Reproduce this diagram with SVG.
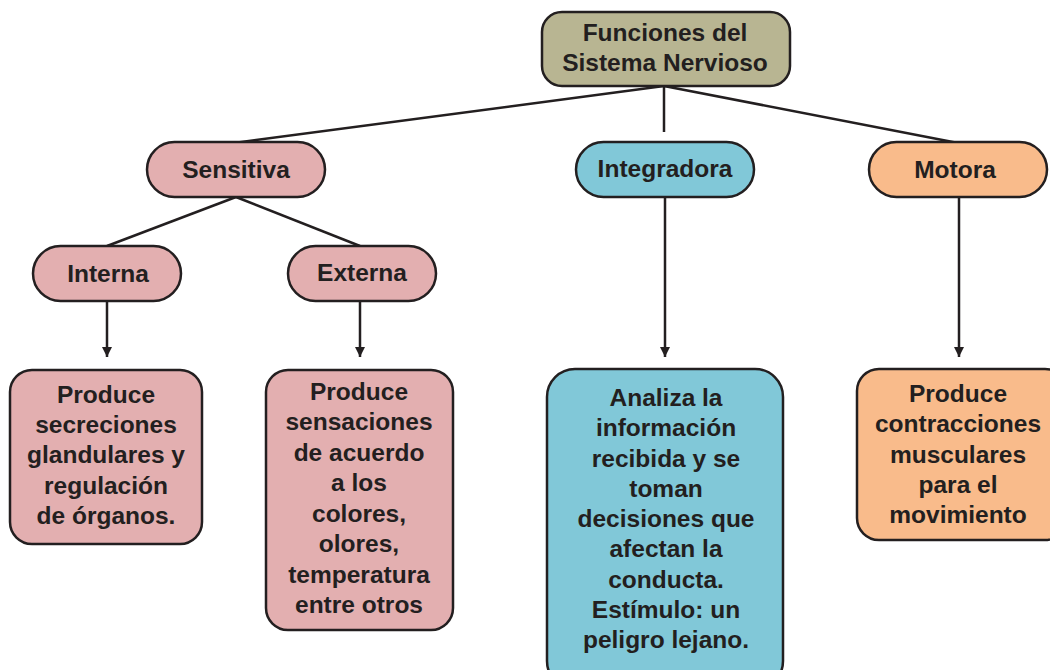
<svg xmlns="http://www.w3.org/2000/svg" width="1050" height="670" viewBox="0 0 1050 670">
<defs>
<style>
.n{stroke:#231f20;stroke-width:2.5}
.t{font-family:"Liberation Sans",Arial,sans-serif;font-weight:bold;font-size:24.5px;fill:#231f20;text-anchor:middle}
.c{stroke:#231f20;stroke-width:2.5;fill:none}
.olive{fill:#b8b592}.pink{fill:#e3afb0}.blue{fill:#81c8d8}.orange{fill:#f9bb8b}
</style>
<marker id="ah" viewBox="0 0 10 10" refX="10" refY="5" markerWidth="4" markerHeight="4" orient="auto" markerUnits="strokeWidth">
<path d="M0,0 L10,5 L0,10 z" fill="#231f20"/>
</marker>
</defs>
<rect width="1050" height="670" fill="#ffffff"/>
<g id="connectors">
<line class="c" x1="664" y1="86" x2="234" y2="143"/>
<line class="c" x1="664" y1="86" x2="664" y2="132"/>
<line class="c" x1="664" y1="86" x2="958" y2="143"/>
<line class="c" x1="236" y1="197" x2="107" y2="246"/>
<line class="c" x1="236" y1="197" x2="360" y2="246"/>
<line class="c" x1="107" y1="301" x2="107" y2="357" marker-end="url(#ah)"/>
<line class="c" x1="360" y1="301" x2="360" y2="357" marker-end="url(#ah)"/>
<line class="c" x1="665" y1="197" x2="665" y2="357" marker-end="url(#ah)"/>
<line class="c" x1="959" y1="197" x2="959" y2="357" marker-end="url(#ah)"/>
</g>
<g id="root">
<rect class="n olive" x="542" y="12" width="248" height="74" rx="20"/>
<text class="t" x="665" y="41">Funciones del</text>
<text class="t" x="665" y="71">Sistema Nervioso</text>
</g>
<g id="sensitiva">
<rect class="n pink" x="147" y="142" width="178" height="55" rx="27.5"/>
<text class="t" x="236" y="178">Sensitiva</text>
</g>
<g id="integradora">
<rect class="n blue" x="576" y="142" width="178" height="55" rx="27.5"/>
<text class="t" x="665" y="177">Integradora</text>
</g>
<g id="motora">
<rect class="n orange" x="869" y="142" width="178" height="55" rx="27.5"/>
<text class="t" x="955" y="178">Motora</text>
</g>
<g id="interna">
<rect class="n pink" x="33" y="246" width="148" height="55" rx="27.5"/>
<text class="t" x="108" y="282">Interna</text>
</g>
<g id="externa">
<rect class="n pink" x="288" y="246" width="148" height="55" rx="27.5"/>
<text class="t" x="362" y="281">Externa</text>
</g>
<g id="box-interna">
<rect class="n pink" x="10" y="370" width="192" height="174" rx="22"/>
<text class="t" x="106" y="403">Produce</text>
<text class="t" x="106" y="433">secreciones</text>
<text class="t" x="106" y="463">glandulares y</text>
<text class="t" x="106" y="494">regulación</text>
<text class="t" x="106" y="524">de órganos.</text>
</g>
<g id="box-externa">
<rect class="n pink" x="266" y="370" width="187" height="260" rx="22"/>
<text class="t" x="359" y="400">Produce</text>
<text class="t" x="359" y="430">sensaciones</text>
<text class="t" x="359" y="461">de acuerdo</text>
<text class="t" x="359" y="491">a los</text>
<text class="t" x="359" y="522">colores,</text>
<text class="t" x="359" y="552">olores,</text>
<text class="t" x="359" y="583">temperatura</text>
<text class="t" x="359" y="613">entre otros</text>
</g>
<g id="box-integradora">
<rect class="n blue" x="547" y="369" width="236" height="320" rx="28"/>
<text class="t" x="666" y="406">Analiza la</text>
<text class="t" x="666" y="436">información</text>
<text class="t" x="666" y="467">recibida y se</text>
<text class="t" x="666" y="497">toman</text>
<text class="t" x="666" y="527">decisiones que</text>
<text class="t" x="666" y="557">afectan la</text>
<text class="t" x="666" y="588">conducta.</text>
<text class="t" x="666" y="618">Estímulo: un</text>
<text class="t" x="666" y="648">peligro lejano.</text>
</g>
<g id="box-motora">
<rect class="n orange" x="857" y="369" width="210" height="171" rx="22"/>
<text class="t" x="958" y="402">Produce</text>
<text class="t" x="958" y="432">contracciones</text>
<text class="t" x="958" y="463">musculares</text>
<text class="t" x="958" y="493">para el</text>
<text class="t" x="958" y="523">movimiento</text>
</g>
</svg>
